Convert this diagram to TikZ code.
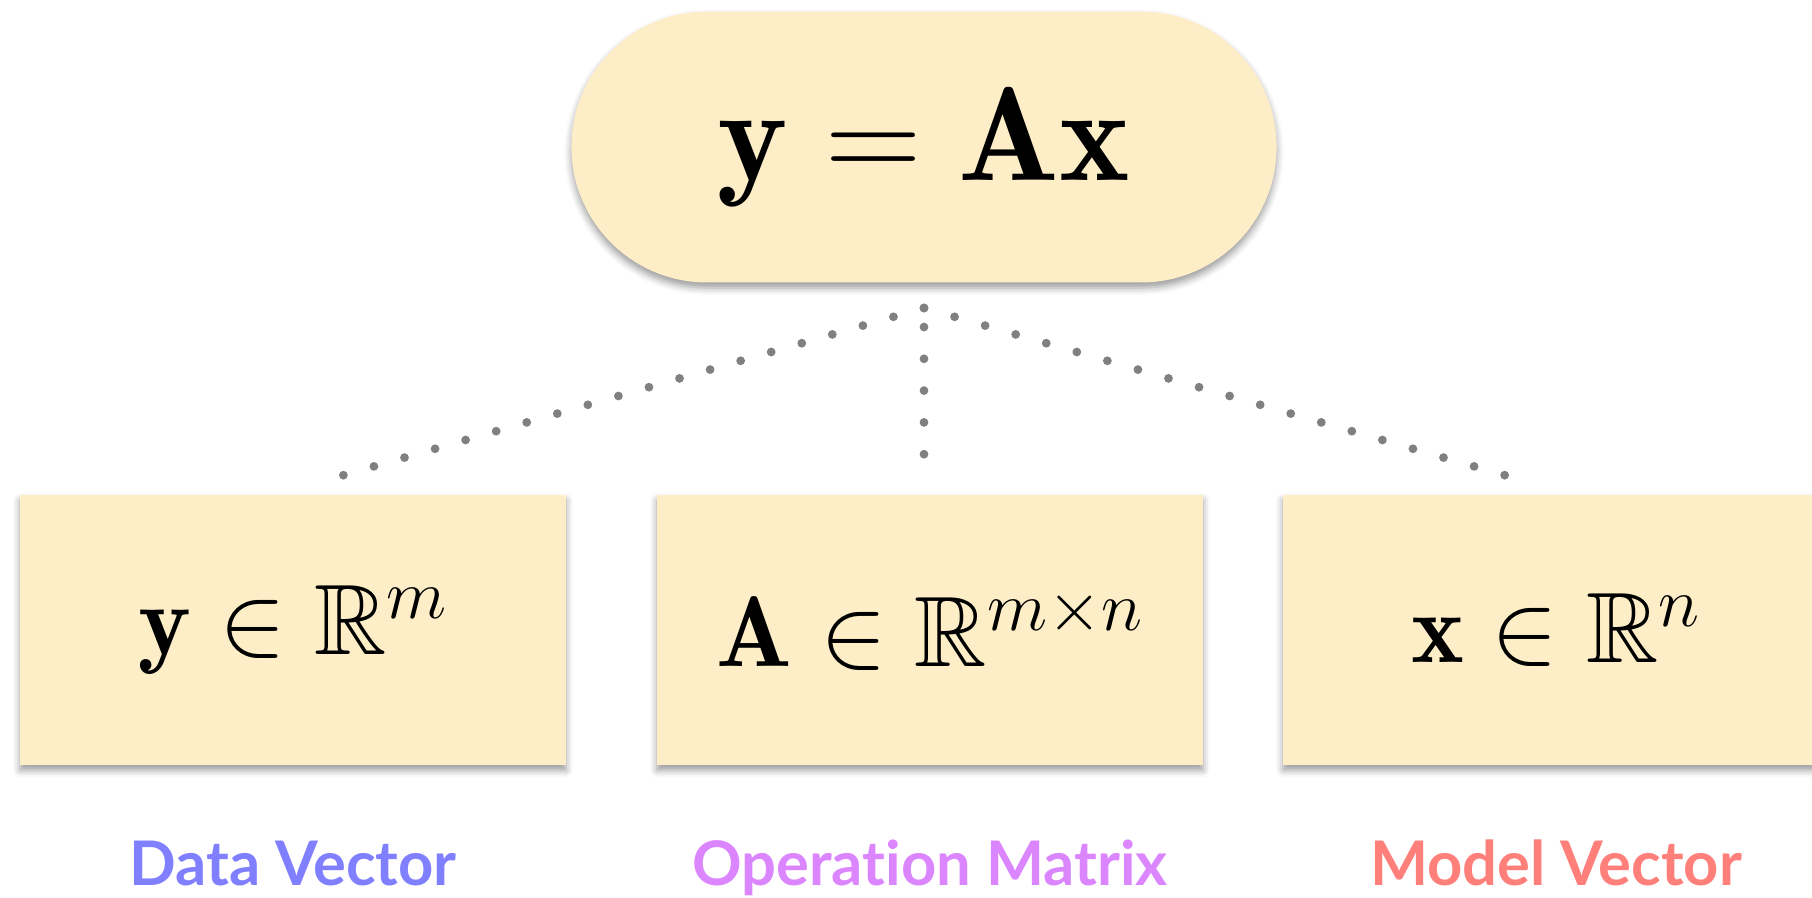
\RequirePackage{fix-cm}
\documentclass[tikz,border=0pt]{standalone}
\usepackage{amsmath,amssymb}
\usepackage{fontspec}
\setsansfont{Lato}[Ligatures=NoCommon]
\usetikzlibrary{shapes.misc,shadows.blur,calc}

\definecolor{boxfill}{HTML}{FDEEC8}
\definecolor{dotgray}{HTML}{808080}
\definecolor{datablue}{HTML}{7F7FFF}
\definecolor{opviolet}{HTML}{DB85FF}
\definecolor{modelred}{HTML}{FF7F7B}

\begin{document}
\begin{tikzpicture}[
    x=0.02cm, y=-0.02cm,
    shadebox/.style={fill=boxfill, blur shadow={shadow xshift=0pt, shadow yshift=-3pt, shadow blur radius=4pt, shadow opacity=40}},
    eqbox/.style={shadebox, rounded rectangle, minimum width=14.34cm, minimum height=5.42cm, font=\fontsize{76}{90}\selectfont},
    box/.style={shadebox, rectangle, minimum width=10.92cm, minimum height=5.4cm, font=\fontsize{57}{68}\selectfont},
    caption/.style={anchor=base, font=\fontsize{35}{42}\selectfont\sffamily\bfseries},
    dots/.style={dotgray, line width=5pt, line cap=round, dash pattern=on 0pt off 18.1pt}
]
    \path[use as bounding box, clip] (0,0) rectangle (1812,897);

    % 1. Equation (Top)
    \node[eqbox] (eqn) at (924, 147) {$\mathbf{y} = \mathbf{A}\mathbf{x}$};

    % 2. Components (Bottom row)
    \node[box] (data) at (293, 630) {$\mathbf{y} \in \mathbb{R}^{m}$};
    \node[box] (op) at (930, 630) {$\mathbf{A} \in \mathbb{R}^{m \times n}$};
    \node[box] (model) at (1556, 630) {$\mathbf{x} \in \mathbb{R}^{n}$};

    % 3. Captions
    \node[caption, text=datablue] (datacap) at (293, 885) {Data Vector};
    \node[caption, text=opviolet] (opcap) at (930, 885) {Operation Matrix};
    \node[caption, text=modelred] (modelcap) at (1556, 885) {Model Vector};

    % 4. Dotted links
    \coordinate (apex) at (924, 308);
    \coordinate (stem) at (924, 327);
    \coordinate (dataend) at (337, 477);
    \coordinate (opend) at (924, 455);
    \coordinate (modelend) at (1511, 477);

    \draw[dots] (apex) -- (dataend);
    \draw[dots] (apex) -- (modelend);
    \draw[dots] (stem) -- (opend);

\end{tikzpicture}
\end{document}
